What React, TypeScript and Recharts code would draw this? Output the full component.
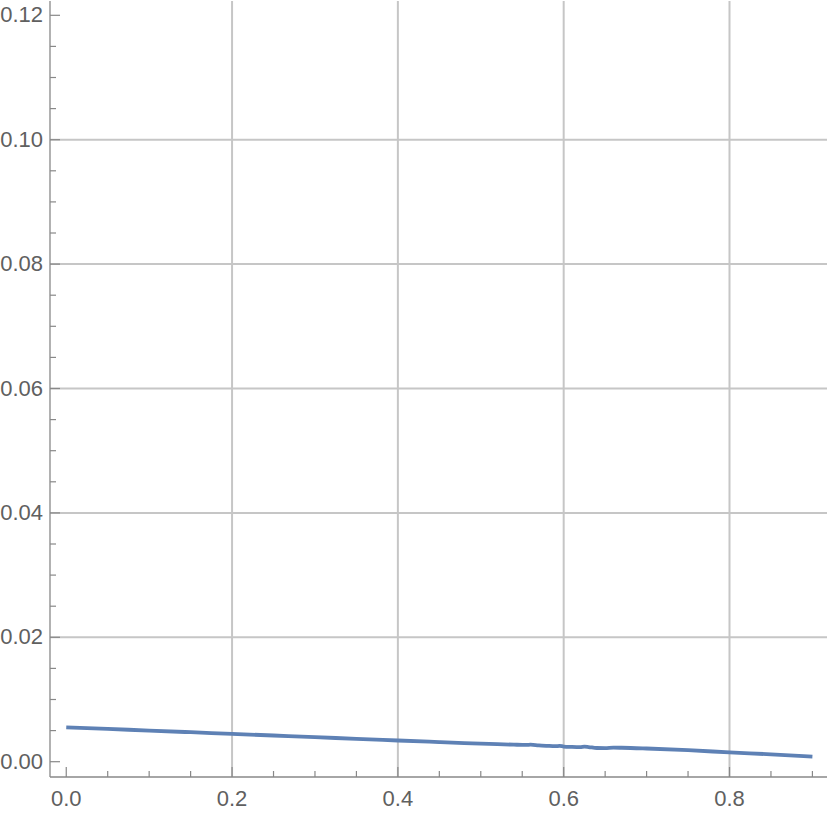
import React from 'react';
import { LineChart, Line, XAxis, YAxis, ReferenceLine } from 'recharts';

// sampled curve
const xs = [0, 0.05, 0.1, 0.15, 0.2, 0.25, 0.3, 0.35, 0.4, 0.45, 0.48, 0.5, 0.52, 0.54, 0.555, 0.56, 0.57, 0.58, 0.59, 0.595, 0.6, 0.61, 0.62, 0.625, 0.63, 0.64, 0.65, 0.66, 0.67, 0.7, 0.75, 0.8, 0.85, 0.9];
const ys = [0.00553, 0.00527, 0.005, 0.00474, 0.00447, 0.00421, 0.00394, 0.00368, 0.00341, 0.00315, 0.003, 0.00292, 0.00282, 0.00274, 0.0027, 0.00274, 0.00262, 0.00255, 0.0025, 0.00254, 0.00244, 0.00238, 0.00235, 0.00242, 0.00236, 0.0022, 0.00218, 0.00226, 0.00224, 0.00212, 0.00185, 0.0015, 0.00118, 0.00082];

const xTicks = [0, 0.05, 0.1, 0.15, 0.2, 0.25, 0.3, 0.35, 0.4, 0.45, 0.5, 0.55, 0.6, 0.65, 0.7, 0.75, 0.8, 0.85, 0.9];
const yTicks = [0, 0.005, 0.01, 0.015, 0.02, 0.025, 0.03, 0.035, 0.04, 0.045, 0.05, 0.055, 0.06, 0.065, 0.07, 0.075, 0.08, 0.085, 0.09, 0.095, 0.1, 0.105, 0.11, 0.115, 0.12];
const xGrid = [0.2, 0.4, 0.6, 0.8];
const yGrid = [0.02, 0.04, 0.06, 0.08, 0.1];

const data = xs.map((x, i) => ({ x, y: ys[i] }));

const AXIS = '#888888';
const LABEL = '#606060';
const FONT = 'Liberation Sans, Arial, sans-serif';

const isMajor = (v: number, step: number) => Math.abs(v / step - Math.round(v / step)) < 1e-6;

const BottomTick = (props: any) => {
  const { x, y, payload } = props;
  const major = isMajor(payload.value, 0.2);
  return (
    <g>
      <line x1={x} x2={x} y1={y} y2={y - (major ? 10 : 6)} stroke={AXIS} strokeWidth={1.2} />
      {major && (
        <text x={x} y={y + 29} textAnchor="middle" fill={LABEL} fontSize={22} fontFamily={FONT}>
          {payload.value.toFixed(1)}
        </text>
      )}
    </g>
  );
};

const TopTick = (props: any) => {
  const { x, y, payload } = props;
  const major = isMajor(payload.value, 0.2);
  return <line x1={x} x2={x} y1={y} y2={y + (major ? 10 : 6)} stroke={AXIS} strokeWidth={1.2} />;
};

const LeftTick = (props: any) => {
  const { x, y, payload } = props;
  const major = isMajor(payload.value, 0.02);
  return (
    <g>
      <line x1={x} x2={x + (major ? 10 : 6)} y1={y} y2={y} stroke={AXIS} strokeWidth={1.2} />
      {major && (
        <text x={x - 7} y={y + 7} textAnchor="end" fill={LABEL} fontSize={22} fontFamily={FONT}>
          {payload.value.toFixed(2)}
        </text>
      )}
    </g>
  );
};

const RightTick = (props: any) => {
  const { x, y, payload } = props;
  const major = isMajor(payload.value, 0.02);
  return <line x1={x} x2={x - (major ? 10 : 6)} y1={y} y2={y} stroke={AXIS} strokeWidth={1.2} />;
};

const xDomain = [-0.0196, 0.9176];
const yDomain = [-0.00246, 0.1223];

export default function App() {
  return (
    <div style={{ position: 'absolute', left: 0, top: 0, background: '#fff' }}>
      <LineChart width={830} height={817} data={data} margin={{ top: 1, right: 3, left: 0, bottom: 0 }}>
        <XAxis
          xAxisId="b"
          dataKey="x"
          type="number"
          orientation="bottom"
          domain={xDomain}
          allowDataOverflow
          ticks={xTicks}
          interval={0}
          height={40}
          tickSize={0}
          tickMargin={0}
          tickLine={false}
          tick={<BottomTick />}
          axisLine={{ stroke: AXIS, strokeWidth: 1.3 }}
        />
        <XAxis
          xAxisId="t"
          dataKey="x"
          type="number"
          orientation="top"
          domain={xDomain}
          allowDataOverflow
          ticks={xTicks}
          interval={0}
          height={0}
          tickSize={0}
          tickMargin={0}
          tickLine={false}
          tick={<TopTick />}
          axisLine={{ stroke: AXIS, strokeWidth: 1.3 }}
        />
        <YAxis
          yAxisId="l"
          type="number"
          orientation="left"
          domain={yDomain}
          allowDataOverflow
          ticks={yTicks}
          interval={0}
          width={50}
          tickSize={0}
          tickMargin={0}
          tickLine={false}
          tick={<LeftTick />}
          axisLine={{ stroke: AXIS, strokeWidth: 1.3 }}
        />
        <YAxis
          yAxisId="r"
          type="number"
          orientation="right"
          domain={yDomain}
          allowDataOverflow
          ticks={yTicks}
          interval={0}
          width={0}
          tickSize={0}
          tickMargin={0}
          tickLine={false}
          tick={<RightTick />}
          axisLine={{ stroke: AXIS, strokeWidth: 1.3 }}
        />
        {xGrid.map((v) => (
          <ReferenceLine key={`gx${v}`} x={v} xAxisId="b" yAxisId="l" stroke="#c6c6c6" strokeWidth={2} />
        ))}
        {yGrid.map((v) => (
          <ReferenceLine key={`gy${v}`} y={v} xAxisId="b" yAxisId="l" stroke="#c6c6c6" strokeWidth={2} />
        ))}
        <Line
          xAxisId="b"
          yAxisId="l"
          dataKey="y"
          type="monotone"
          stroke="#5E81B5"
          strokeWidth={3.8}
          dot={false}
          isAnimationActive={false}
        />
      </LineChart>
    </div>
  );
}
